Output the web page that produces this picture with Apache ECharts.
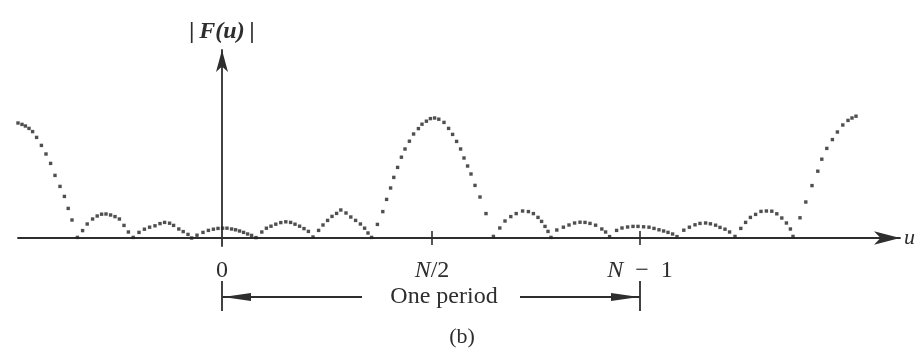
<!DOCTYPE html>
<html>
<head>
<meta charset="utf-8">
<script src="https://cdn.jsdelivr.net/npm/echarts@6/dist/echarts.min.js"></script>
<style>
  html, body { margin: 0; padding: 0; background: #ffffff; }
  #chart { width: 922px; height: 360px; }
</style>
</head>
<body>
<div id="chart"></div>
<script>
// Sample positions u (period N = 210, so N/2 = 105) and the magnitude |F(u)| at each dot
const uVals = [
  -102, -100, -98.3, -96.5, -94.7, -92.7, -90.3, -88, -85.7, -83.5, -81, -78.8, -76.9, -75, -72.3,
  -69.7, -67.4, -64.7, -62.4, -60.2, -58, -55.7, -53.5, -51.3, -49, -46.8, -44.4,
  -41.5, -38.8, -36.2, -33.5, -31, -28.7, -26.2, -24.2, -21.6, -19.4, -17, -15.2,
  -12.5, -9.5, -6.8, -4.3, -2, 0.3, 2.5, 4.8, 6.8, 8.8, 10.8, 12.8, 14.8, 17,
  19.9, 22.2, 24.5, 26.9, 29.4, 31.9, 34.3, 36.5, 38.8, 41, 43.2, 45.5,
  48.3, 50.5, 52.8, 55, 57.3, 59.4, 62, 64.4, 66.8, 69.2, 71.3, 73, 74.8,
  77.7, 80.4, 82.3, 84.3, 85.9, 87.8, 89.7, 91.5, 93.7, 95.8, 98.2, 100, 102.2, 104.2,
  106.3, 108.4, 111, 113.3, 115.3, 117.3, 119.3, 121, 122.8, 124.5, 126.5, 129, 132, 135.7,
  138.9, 141.5, 144.4, 147.1, 150.3, 153.2, 155.7, 158, 159.8, 161.5, 163, 164.5,
  167.4, 170.7, 173.5, 176.3, 179, 181.5, 184, 186.8, 189.9, 191.8, 193.8,
  197.3, 200, 202.8, 205.5, 208, 210.8, 213.5, 216, 218.5, 220.8, 223, 225.3, 227.5,
  230.9, 233.7, 236.5, 239, 241.8, 244.2, 246.8, 249, 251.5, 253.8, 256.5,
  259.4, 261.8, 264.2, 266.8, 269.5, 272.2, 274.9, 277.4, 279.9, 282.2, 284.2, 285.5,
  289, 291.9, 295, 297.9, 299.9, 302.4, 305.2, 307.7, 310.4, 313, 315, 317
];
const magVals = [
  57.5, 56.8, 56, 54.8, 53.2, 50.3, 46.3, 42, 37.3, 31.3, 25.8, 20.8, 14.8, 9, 0.3,
  3.7, 7, 9.5, 11, 11.9, 12, 11.5, 10.7, 9.5, 6.3, 3, 0.3,
  2.8, 4.4, 5.4, 6.1, 7.2, 7.8, 7.4, 6.3, 4.5, 3.2, 1.8, 0,
  1.4, 2.8, 3.8, 4.4, 4.8, 4.9, 4.9, 4.5, 4.1, 3.5, 2.8, 2, 1.3, 0.2,
  3, 4.9, 5.9, 6.9, 7.7, 8.1, 7.8, 6.9, 5.9, 4.7, 3.3, 0.5,
  3.8, 6.5, 8.8, 10.8, 12.3, 14, 12.5, 10.5, 8.8, 7, 4.9, 2.5, 0.3,
  6.8, 13.2, 19.3, 25, 30.3, 35.3, 40.4, 44.5, 48.4, 52, 54.7, 56.9, 58.4, 59.7,
  60, 59.4, 57.8, 54.8, 51.8, 48.3, 44.5, 40, 36, 32, 26.3, 20.5, 12.2, 0.8,
  5, 8.5, 10.7, 12.2, 13.5, 13.2, 12.2, 10.3, 8.3, 5.8, 3.3, 0.3,
  4, 5.4, 6.5, 7.5, 7.9, 7.8, 7.3, 6.4, 4.5, 3, 0.7,
  3.8, 5, 5.5, 5.8, 5.8, 5.6, 5.4, 4.8, 4.1, 3.5, 2.8, 2, 0.7,
  3.9, 5.4, 6.6, 7.3, 7.5, 7.1, 6.4, 5.3, 4.4, 3, 0.8,
  4.8, 7.8, 10.3, 11.8, 13.3, 13.5, 13.4, 12.1, 10, 7.5, 4.5, 0.8,
  10.1, 18, 26.2, 33.4, 39.4, 44.8, 49.2, 53, 56.5, 58.8, 60, 60.9
];

// Marked positions on the u axis and their labels
const tickVals = [105, 209];
const labelVals = [0, 105, 209];
const tickLabels = ['0', '{i|N}/2', '{i|N}\u2002\u2212\u20021'];
const tickHalf = 3.5;
const periodStart = 0;
const periodEnd = 209;

const INK = '#2e2e2e';
const SERIF = '"Liberation Serif", "DejaVu Serif", serif';

const chart = echarts.init(document.getElementById('chart'), null, { renderer: 'canvas' });

const points = uVals.map((u, i) => [u, magVals[i]]);

// Short tick marks that cross the u axis at N/2 and N - 1
const crossTicks = tickVals.map(v => [{ coord: [v, -tickHalf] }, { coord: [v, tickHalf] }]);

chart.setOption({
  animation: false,
  backgroundColor: '#ffffff',
  grid: { left: 18, right: 22, top: 50, bottom: 114, containLabel: false },
  xAxis: {
    type: 'value', min: -102, max: 339,
    name: 'u', nameLocation: 'end', nameGap: 4,
    nameTextStyle: { fontFamily: SERIF, fontStyle: 'italic', fontSize: 22, color: INK, verticalAlign: 'middle' },
    axisLine: { show: true, onZero: true, symbol: ['none', 'arrow'], symbolSize: [10, 26],
                lineStyle: { color: INK, width: 1.8 } },
    axisTick: { show: false },
    axisLabel: {
      show: true, customValues: labelVals, margin: 13,
      fontFamily: SERIF, fontSize: 24, color: INK,
      formatter: v => tickLabels[labelVals.indexOf(v)],
      rich: { i: { fontFamily: SERIF, fontStyle: 'italic', fontSize: 24, color: INK } }
    },
    splitLine: { show: false }
  },
  yAxis: {
    type: 'value', min: -4, max: 94,
    name: '|\u2009F(u)\u2009|', nameLocation: 'end', nameGap: 6,
    nameTextStyle: { fontFamily: SERIF, fontStyle: 'italic', fontWeight: 'bold', fontSize: 24, color: INK, align: 'center' },
    axisLine: { show: true, onZero: true, symbol: ['none', 'arrow'], symbolSize: [9, 22],
                lineStyle: { color: INK, width: 1.8 } },
    axisTick: { show: false },
    axisLabel: { show: false },
    splitLine: { show: false }
  },
  series: [
    {
      type: 'scatter',
      data: points,
      symbol: 'rect',
      symbolSize: 3.4,
      itemStyle: { color: '#232323' },
      silent: true,
      markLine: {
        silent: true,
        symbol: ['none', 'none'],
        label: { show: false },
        lineStyle: { color: INK, width: 1.6, type: 'solid' },
        data: crossTicks
      }
    }
  ]
});

// "One period" bracket beneath the axis, anchored at u = 0 and u = N - 1
const x0 = chart.convertToPixel({ xAxisIndex: 0 }, periodStart);
const x1 = chart.convertToPixel({ xAxisIndex: 0 }, periodEnd);
const yBar = 297;
const lineStyle = { stroke: INK, lineWidth: 1.8 };

chart.setOption({
  graphic: [
    { type: 'line', shape: { x1: x0, y1: 281, x2: x0, y2: 311 }, style: lineStyle },
    { type: 'line', shape: { x1: x1, y1: 281, x2: x1, y2: 311 }, style: lineStyle },
    { type: 'line', shape: { x1: x0, y1: yBar, x2: 362, y2: yBar }, style: lineStyle },
    { type: 'polygon', shape: { points: [[x0 + 1, yBar], [x0 + 29, yBar - 4], [x0 + 29, yBar + 4]] }, style: { fill: INK } },
    { type: 'line', shape: { x1: 520, y1: yBar, x2: x1, y2: yBar }, style: lineStyle },
    { type: 'polygon', shape: { points: [[x1 - 1, yBar], [x1 - 29, yBar - 4], [x1 - 29, yBar + 4]] }, style: { fill: INK } },
    { type: 'text', x: 444, y: yBar,
      style: { text: 'One period', textAlign: 'center', textVerticalAlign: 'middle', fontFamily: SERIF, fontSize: 24, fill: INK } },
    { type: 'text', x: 462, y: 337,
      style: { text: '(b)', textAlign: 'center', textVerticalAlign: 'middle', fontFamily: SERIF, fontSize: 22, fill: INK } }
  ]
});
</script>
</body>
</html>
